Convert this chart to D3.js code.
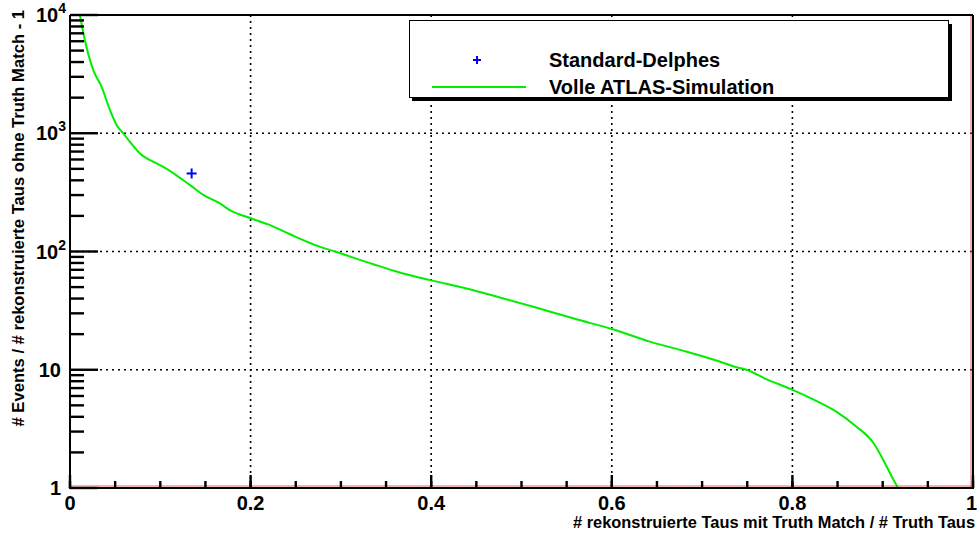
<!DOCTYPE html>
<html>
<head>
<meta charset="utf-8">
<script src="https://cdn.jsdelivr.net/npm/d3@7"></script>
<style>
  html, body { margin: 0; padding: 0; background: #fff; }
  svg { display: block; font-family: "Liberation Sans", Arial, Helvetica, sans-serif; font-weight: bold; }
</style>
</head>
<body>
<svg id="chart" width="977" height="534"></svg>
<script>
// Signal efficiency (fraction of truth-matched taus) for the full ATLAS simulation
const effAtlas = [0.011, 0.0148, 0.0258, 0.035, 0.0443, 0.0517, 0.059, 0.0664, 0.0775, 0.096,
  0.107, 0.133, 0.148, 0.166, 0.177, 0.201, 0.2215, 0.2436, 0.2695, 0.297,
  0.336, 0.365, 0.399, 0.439, 0.476, 0.513, 0.561, 0.600, 0.642, 0.683,
  0.720, 0.738, 0.749, 0.7715, 0.799, 0.823, 0.849, 0.871, 0.890, 0.9025, 0.910, 0.917];
// Background rejection (events / fake taus - 1) for the full ATLAS simulation
const rejAtlas = [10000, 7016, 3415, 2467, 1568, 1170, 996, 846, 675, 556,
  500, 364, 300, 255, 224, 190, 167, 140, 115, 98,
  78, 66.5, 57.3, 48.7, 40.9, 34.1, 26.7, 22.1, 17.3, 14.2,
  11.7, 10.5, 10.0, 8.3, 6.83, 5.62, 4.41, 3.30, 2.39, 1.62, 1.25, 1.0];
// Single working point of the standard Delphes card
const effDelphes = [0.1347];
const rejDelphes = [457];

const xMajorTicks = [0, 0.2, 0.4, 0.6, 0.8, 1];
const xTickLabels = ["0", "0.2", "0.4", "0.6", "0.8", "1"];
const yDecades = [1, 10, 100, 1000, 10000];
const yTickLabels = [["1", ""], ["10", ""], ["10", "2"], ["10", "3"], ["10", "4"]];
const legendLabels = ["Standard-Delphes", "Volle ATLAS-Simulation"];
const xTitle = "# rekonstruierte Taus mit Truth Match / # Truth Taus";
const yTitle = "# Events / # rekonstruierte Taus ohne Truth Match - 1";

const svg = d3.select("#chart");
const L = 70, R = 973, T = 15, B = 488;
const xScale = d3.scaleLinear().domain([0, 1]).range([L, R]);
const yScale = d3.scaleLog().domain([1, 1e4]).range([B, T]);

// dotted grid at the labelled ticks
const grid = svg.append("g").attr("stroke", "#000").attr("stroke-width", 1.6)
  .attr("stroke-dasharray", "2 4");
grid.selectAll("line.gx").data(xMajorTicks.filter(d => d > 0 && d < 1)).join("line")
  .attr("class", "gx")
  .attr("x1", d => xScale(d)).attr("x2", d => xScale(d)).attr("y1", T).attr("y2", B);
grid.selectAll("line.gy").data(yDecades.filter(d => d > 1 && d < 1e4)).join("line")
  .attr("class", "gy")
  .attr("x1", L).attr("x2", R).attr("y1", d => yScale(d)).attr("y2", d => yScale(d));

// clip for data
svg.append("defs").append("clipPath").attr("id", "plotclip").append("rect")
  .attr("x", L).attr("y", T).attr("width", R - L).attr("height", B - T);

// ATLAS curve
const pts = effAtlas.map((e, i) => [e, rejAtlas[i]]);
svg.append("path").datum(pts)
  .attr("clip-path", "url(#plotclip)")
  .attr("fill", "none").attr("stroke", "#00ee00").attr("stroke-width", 2)
  .attr("d", d3.line().curve(d3.curveMonotoneX).x(d => xScale(d[0])).y(d => yScale(d[1])));

// Delphes marker
const cross = (g, cx, cy, s) => {
  g.append("line").attr("x1", cx - s).attr("x2", cx + s).attr("y1", cy).attr("y2", cy);
  g.append("line").attr("x1", cx).attr("x2", cx).attr("y1", cy - s).attr("y2", cy + s);
};
const mk = svg.append("g").attr("stroke", "#0000ff").attr("stroke-width", 2);
effDelphes.forEach((e, i) => cross(mk, xScale(e), yScale(rejDelphes[i]), 5));

// frame
svg.append("line").attr("x1", L).attr("x2", R - 2).attr("y1", B - 2).attr("y2", B - 2)
  .attr("stroke", "#e04040").attr("stroke-width", 0.8);
svg.append("line").attr("x1", R - 2).attr("x2", R - 2).attr("y1", T).attr("y2", B)
  .attr("stroke", "#e04040").attr("stroke-width", 0.8);
const frame = svg.append("g").attr("stroke", "#000").attr("stroke-width", 2);
frame.append("line").attr("x1", L).attr("x2", R).attr("y1", B).attr("y2", B);
frame.append("line").attr("x1", L).attr("x2", L).attr("y1", T).attr("y2", B + 1);
frame.append("line").attr("x1", L).attr("x2", R).attr("y1", T).attr("y2", T);
frame.append("line").attr("x1", R).attr("x2", R).attr("y1", T).attr("y2", B + 1);

// tick marks: 2..9 per decade on y, every 0.05 on x; longer ones at labelled values
const yMinorTicks = [];
for (let e = 0; e < 4; e++) for (let m = 2; m <= 9; m++) yMinorTicks.push(m * Math.pow(10, e));
const xMinorTicks = d3.range(0, 21).map(i => i * 0.05);
const tickG = svg.append("g").attr("stroke", "#000").attr("stroke-width", 2.4);
yMinorTicks.forEach(v => {
  const py = yScale(v);
  tickG.append("line").attr("x1", L).attr("x2", L + 14).attr("y1", py).attr("y2", py);
});
yDecades.forEach(v => {
  const py = yScale(v);
  tickG.append("line").attr("x1", L).attr("x2", L + 28).attr("y1", py).attr("y2", py);
});
xMinorTicks.forEach(v => {
  const px = xScale(v);
  tickG.append("line").attr("x1", px).attr("x2", px).attr("y1", B).attr("y2", B - 7);
});
xMajorTicks.forEach(v => {
  const px = xScale(v);
  tickG.append("line").attr("x1", px).attr("x2", px).attr("y1", B).attr("y2", B - 13);
});

// x tick labels
svg.append("g").selectAll("text").data(xMajorTicks).join("text")
  .attr("x", d => d === 1 ? 977 : xScale(d)).attr("y", 510)
  .attr("text-anchor", d => d === 1 ? "end" : "middle")
  .attr("font-size", 20).text((d, i) => xTickLabels[i]);

// y tick labels with exponents
const yl = svg.append("g").selectAll("text").data(yDecades).join("text")
  .attr("x", (d, i) => yTickLabels[i][1] ? 66 : 61)
  .attr("y", d => yScale(d) + 7).attr("text-anchor", "end").attr("font-size", 20);
yl.each(function (d, i) {
  const t = d3.select(this);
  t.append("tspan").text(yTickLabels[i][0]);
  if (yTickLabels[i][1]) {
    t.append("tspan").attr("font-size", 14).attr("dy", -9).text(yTickLabels[i][1]);
  }
});

// axis titles
svg.append("text").attr("x", 975).attr("y", 528).attr("text-anchor", "end")
  .attr("font-size", 16.4).text(xTitle);
svg.append("text").attr("transform", "translate(24,10) rotate(-90)")
  .attr("text-anchor", "end").attr("font-size", 16.6).text(yTitle);

// legend
const lg = svg.append("g");
lg.append("rect").attr("x", 412).attr("y", 24).attr("width", 540).attr("height", 77).attr("fill", "#000");
lg.append("rect").attr("x", 409.5).attr("y", 20.5).attr("width", 539).attr("height", 77)
  .attr("fill", "#fff").attr("stroke", "#000").attr("stroke-width", 1);
const mkL = lg.append("g").attr("stroke", "#0000ff").attr("stroke-width", 2);
cross(mkL, 477, 60, 4);
lg.append("line").attr("x1", 432).attr("x2", 526).attr("y1", 87).attr("y2", 87)
  .attr("stroke", "#00ee00").attr("stroke-width", 2);
lg.selectAll("text").data(legendLabels).join("text")
  .attr("x", 549).attr("y", (d, i) => i === 0 ? 67 : 94)
  .attr("font-size", 20).text(d => d);
</script>
</body>
</html>
